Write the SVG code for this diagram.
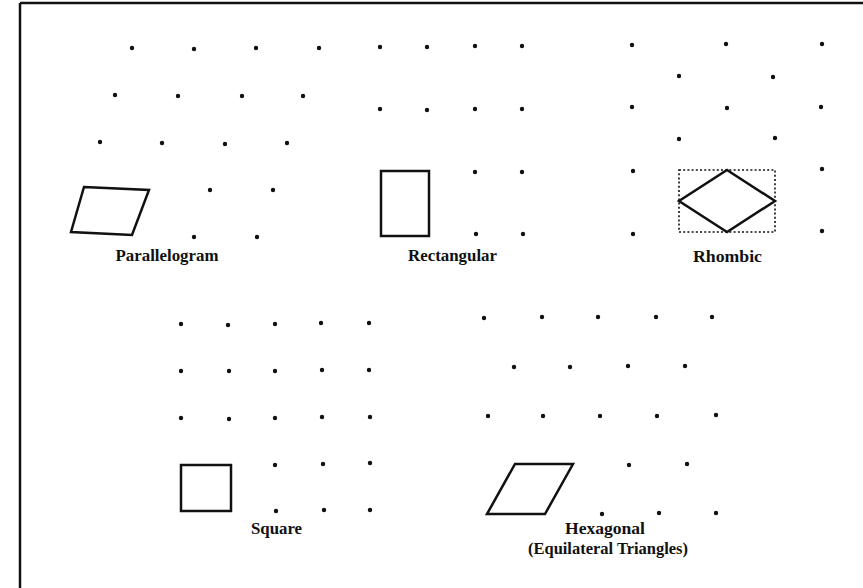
<svg xmlns="http://www.w3.org/2000/svg" width="863" height="588" viewBox="0 0 863 588">
<style>
.dot{fill:#111}
.shape{fill:none;stroke:#111;stroke-width:2.5;stroke-linejoin:miter}
.lbl{font-family:"Liberation Serif","Times New Roman",serif;font-weight:bold;font-size:16.5px;fill:#111;text-anchor:middle}
</style>
<defs><circle id="d" r="2.2" class="dot"/></defs>
<rect width="863" height="588" fill="#fff"/>
<g id="frame" stroke="#111" stroke-width="2.5">
<line x1="20" y1="3" x2="863" y2="3"/>
<line x1="20" y1="3" x2="20" y2="588"/>
</g>
<g id="parallelogram">
<use href="#d" x="132" y="48"/><use href="#d" x="194" y="49"/><use href="#d" x="256" y="48"/><use href="#d" x="319" y="48"/>
<use href="#d" x="115" y="95"/><use href="#d" x="178" y="96"/><use href="#d" x="242" y="96"/><use href="#d" x="303" y="96"/>
<use href="#d" x="100" y="142"/><use href="#d" x="162" y="143"/><use href="#d" x="225" y="144"/><use href="#d" x="287" y="143"/>
<use href="#d" x="210" y="190"/><use href="#d" x="273" y="190"/>
<use href="#d" x="194" y="237"/><use href="#d" x="257" y="237"/>
<polygon class="shape" points="84,187 149,190 132,235 71,232"/>
<text class="lbl" x="167" y="261" textLength="103" lengthAdjust="spacingAndGlyphs">Parallelogram</text>
</g>
<g id="rectangular">
<use href="#d" x="380" y="47"/><use href="#d" x="427" y="47"/><use href="#d" x="475" y="46"/><use href="#d" x="522" y="46"/>
<use href="#d" x="380" y="109"/><use href="#d" x="427" y="110"/><use href="#d" x="475" y="109"/><use href="#d" x="522" y="109"/>
<use href="#d" x="475" y="172"/><use href="#d" x="522" y="172"/>
<use href="#d" x="476" y="234"/><use href="#d" x="523" y="234"/>
<rect class="shape" x="381" y="171" width="48" height="65"/>
<text class="lbl" x="452.5" y="261" textLength="89" lengthAdjust="spacingAndGlyphs">Rectangular</text>
</g>
<g id="rhombic">
<use href="#d" x="632" y="45"/><use href="#d" x="726" y="44"/><use href="#d" x="822" y="44"/>
<use href="#d" x="679" y="76"/><use href="#d" x="773" y="77"/>
<use href="#d" x="632" y="107"/><use href="#d" x="727" y="108"/><use href="#d" x="821" y="107"/>
<use href="#d" x="679" y="139"/><use href="#d" x="775" y="138"/>
<use href="#d" x="633" y="171"/><use href="#d" x="822" y="169"/>
<use href="#d" x="633" y="234"/><use href="#d" x="822" y="231"/>
<rect x="679" y="170" width="96" height="62" fill="none" stroke="#111" stroke-width="1.6" stroke-dasharray="2,2.2"/>
<polygon class="shape" points="727,170 775,201 727,232 679,201"/>
<text class="lbl" x="727.5" y="262" textLength="69" lengthAdjust="spacingAndGlyphs">Rhombic</text>
</g>
<g id="square">
<use href="#d" x="181" y="324"/><use href="#d" x="228" y="325"/><use href="#d" x="275" y="324"/><use href="#d" x="321" y="323"/><use href="#d" x="369" y="323"/>
<use href="#d" x="181" y="371"/><use href="#d" x="229" y="371"/><use href="#d" x="275" y="371"/><use href="#d" x="322" y="370"/><use href="#d" x="369" y="370"/>
<use href="#d" x="181" y="418"/><use href="#d" x="229" y="419"/><use href="#d" x="275" y="418"/><use href="#d" x="322" y="417"/><use href="#d" x="370" y="417"/>
<use href="#d" x="275" y="465"/><use href="#d" x="323" y="464"/><use href="#d" x="370" y="463"/>
<use href="#d" x="276" y="511"/><use href="#d" x="324" y="510"/><use href="#d" x="370" y="510"/>
<rect class="shape" x="181" y="465" width="50" height="46"/>
<text class="lbl" x="276.5" y="534" textLength="51" lengthAdjust="spacingAndGlyphs">Square</text>
</g>
<g id="hexagonal">
<use href="#d" x="484" y="318"/><use href="#d" x="542" y="317"/><use href="#d" x="598" y="317"/><use href="#d" x="656" y="317"/><use href="#d" x="712" y="317"/>
<use href="#d" x="514" y="367"/><use href="#d" x="570" y="367"/><use href="#d" x="628" y="366"/><use href="#d" x="685" y="366"/>
<use href="#d" x="488" y="416"/><use href="#d" x="543" y="416"/><use href="#d" x="600" y="416"/><use href="#d" x="657" y="416"/><use href="#d" x="716" y="415"/>
<use href="#d" x="629" y="465"/><use href="#d" x="687" y="464"/>
<use href="#d" x="602" y="514"/><use href="#d" x="659" y="513"/><use href="#d" x="716" y="513"/>
<polygon class="shape" points="515,464 573,464 545,514 487,514"/>
<text class="lbl" x="605" y="534" textLength="80" lengthAdjust="spacingAndGlyphs">Hexagonal</text>
<text class="lbl" x="608" y="554" textLength="160" lengthAdjust="spacingAndGlyphs">(Equilateral Triangles)</text>
</g>
</svg>
